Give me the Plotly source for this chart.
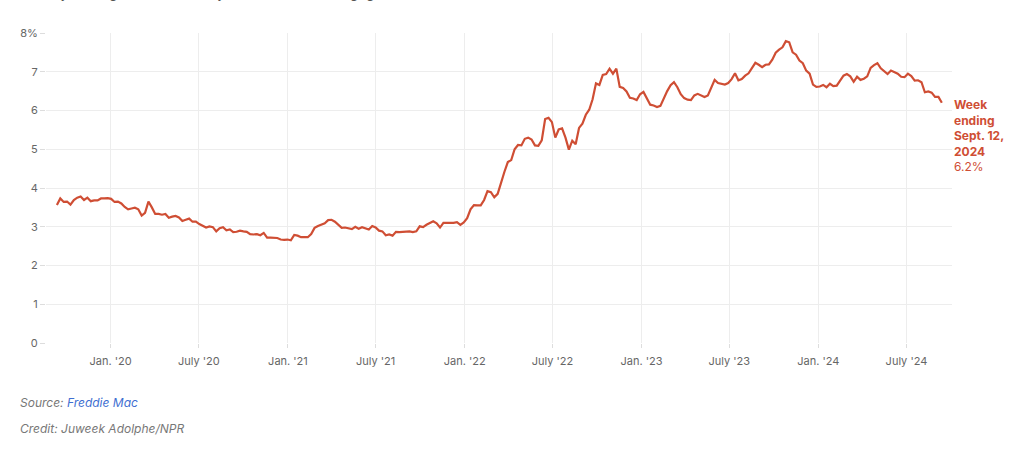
import pandas as pd
import plotly.graph_objects as go

# Weekly average 30-year fixed mortgage rate (%), Freddie Mac, week ending Thursdays
rates_2019 = [3.56, 3.73, 3.64, 3.65, 3.57, 3.69, 3.75, 3.78, 3.69, 3.75, 3.66, 3.68,
              3.68, 3.73, 3.73, 3.74]
rates_2020 = [3.72, 3.64, 3.65, 3.60, 3.51, 3.45, 3.47, 3.49, 3.45, 3.29, 3.36, 3.65,
              3.50, 3.33, 3.33, 3.31, 3.33, 3.23, 3.26, 3.28, 3.24, 3.15, 3.18, 3.21,
              3.13, 3.13, 3.07, 3.03, 2.98, 3.01, 2.99, 2.88, 2.96, 2.99, 2.91, 2.93,
              2.86, 2.87, 2.90, 2.88, 2.87, 2.81, 2.80, 2.81, 2.78, 2.84, 2.72, 2.72,
              2.71, 2.71, 2.67, 2.66, 2.67]
rates_2021 = [2.65, 2.79, 2.77, 2.73, 2.73, 2.73, 2.81, 2.97, 3.02, 3.05, 3.09, 3.17,
              3.18, 3.13, 3.04, 2.97, 2.98, 2.96, 2.94, 3.00, 2.95, 2.99, 2.96, 2.93,
              3.02, 2.98, 2.90, 2.88, 2.78, 2.80, 2.77, 2.87, 2.86, 2.87, 2.87, 2.88,
              2.86, 2.88, 3.01, 2.99, 3.05, 3.09, 3.14, 3.09, 2.98, 3.10, 3.10, 3.11,
              3.10, 3.12, 3.05, 3.11]
rates_2022 = [3.22, 3.45, 3.56, 3.55, 3.55, 3.69, 3.92, 3.89, 3.76, 3.85, 4.16, 4.42,
              4.67, 4.72, 5.00, 5.11, 5.10, 5.27, 5.30, 5.25, 5.10, 5.09, 5.23, 5.78,
              5.81, 5.70, 5.30, 5.51, 5.54, 5.30, 4.99, 5.22, 5.13, 5.55, 5.66, 5.89,
              6.02, 6.29, 6.70, 6.66, 6.92, 6.94, 7.08, 6.95, 7.08, 6.61, 6.58, 6.49,
              6.33, 6.31, 6.27, 6.42]
rates_2023 = [6.48, 6.33, 6.15, 6.13, 6.09, 6.12, 6.32, 6.50, 6.65, 6.73, 6.60, 6.42,
              6.32, 6.28, 6.27, 6.39, 6.43, 6.39, 6.35, 6.39, 6.57, 6.79, 6.71, 6.69,
              6.67, 6.71, 6.81, 6.96, 6.78, 6.81, 6.90, 6.96, 7.09, 7.23, 7.18, 7.12,
              7.18, 7.19, 7.31, 7.49, 7.57, 7.63, 7.79, 7.76, 7.50, 7.44, 7.29, 7.22,
              7.03, 6.95, 6.67, 6.61]
rates_2024 = [6.62, 6.66, 6.60, 6.69, 6.63, 6.64, 6.77, 6.90, 6.94, 6.88, 6.74, 6.87,
              6.79, 6.82, 6.88, 7.10, 7.17, 7.22, 7.09, 7.02, 6.94, 7.03, 6.99, 6.95,
              6.87, 6.86, 6.95, 6.89, 6.77, 6.78, 6.73, 6.47, 6.49, 6.46, 6.35, 6.35,
              6.20]

rates = rates_2019 + rates_2020 + rates_2021 + rates_2022 + rates_2023 + rates_2024
dates = pd.date_range("2019-09-12", periods=len(rates), freq="W-THU")

x_tick_vals = ["2020-01-01", "2020-07-01", "2021-01-01", "2021-07-01", "2022-01-01",
               "2022-07-01", "2023-01-01", "2023-07-01", "2024-01-01", "2024-07-01"]
x_tick_text = ["Jan. '20", "July '20", "Jan. '21", "July '21", "Jan. '22",
               "July '22", "Jan. '23", "July '23", "Jan. '24", "July '24"]
y_tick_vals = [0, 1, 2, 3, 4, 5, 6, 7, 8]
y_tick_text = ["0", "1", "2", "3", "4", "5", "6", "7", "8%"]

LINE = "#cf4e34"
GRID = "#ededed"
FONT = "Inter, Roboto, Arial, sans-serif"

W, H = 1024, 453
ML, MR, MT, MB = 46, 72, 33, 110
ph = H - MT - MB
pw = W - ML - MR


def px_to_paper(xp, yp):
    return (xp - ML) / pw, 1 - (yp - MT) / ph


fig = go.Figure()
fig.add_trace(go.Scatter(x=dates, y=rates, mode="lines",
                         line=dict(color=LINE, width=2.2), hoverinfo="x+y",
                         showlegend=False))

last_val = rates[-1]
fig.add_annotation(x=dates[-1], y=last_val, xref="x", yref="y",
                   xanchor="left", yanchor="top", xshift=10, yshift=8,
                   showarrow=False, align="left",
                   text=("<b>Week<br>ending<br>Sept. 12,<br>2024</b><br>"
                         f"{last_val:.1f}%"),
                   font=dict(family=FONT, size=12, color=LINE))

# partially visible subtitle at the very top
tx, ty = px_to_paper(18, 3)
fig.add_annotation(x=tx, y=ty, xref="paper", yref="paper", xanchor="left", yanchor="bottom",
                   showarrow=False, text="Weekly average rate for a 30-year fixed-rate mortgage",
                   font=dict(family=FONT, size=14, color="#555555"))

sx, sy = px_to_paper(18, 402)
fig.add_annotation(x=sx, y=sy, xref="paper", yref="paper", xanchor="left", yanchor="middle",
                   showarrow=False,
                   text="<i>Source: <span style='color:#3f6fd1'>Freddie Mac</span></i>",
                   font=dict(family=FONT, size=12, color="#777777"))
cx, cy = px_to_paper(18, 428)
fig.add_annotation(x=cx, y=cy, xref="paper", yref="paper", xanchor="left", yanchor="middle",
                   showarrow=False,
                   text="<i>Credit: Juweek Adolphe/NPR</i>",
                   font=dict(family=FONT, size=12, color="#777777"))

fig.update_layout(
    width=W, height=H,
    margin=dict(l=ML, r=MR, t=MT, b=MB, pad=0),
    paper_bgcolor="white", plot_bgcolor="white",
    font=dict(family=FONT, size=11, color="#666666"),
    xaxis=dict(range=["2019-08-20 12:00", "2024-10-03"], tickvals=x_tick_vals,
               ticktext=x_tick_text, showgrid=True, gridcolor=GRID, gridwidth=1,
               ticks="outside", ticklen=4, tickcolor="#dddddd", showline=False,
               zeroline=False, ticklabelstandoff=4,
               tickfont=dict(size=11, color="#666666")),
    yaxis=dict(range=[0, 8], tickvals=y_tick_vals, ticktext=y_tick_text,
               showgrid=True, gridcolor=GRID, gridwidth=1, ticks="outside",
               ticklen=5, tickcolor="#dddddd", showline=False, zeroline=False,
               tickfont=dict(size=11, color="#666666")),
    hovermode="x",
)

fig.write_html("out.html", config={"displayModeBar": False},
               post_script="document.body.style.margin='0px';")
